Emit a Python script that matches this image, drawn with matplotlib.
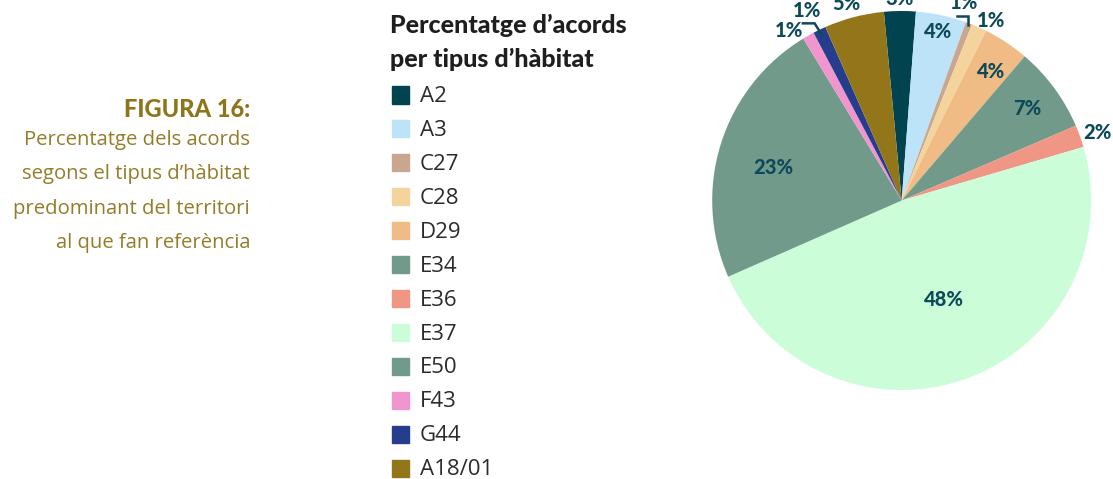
import numpy as np
import matplotlib
matplotlib.use("Agg")
import matplotlib.pyplot as plt
from matplotlib.patches import Rectangle

# habitat types and share of agreements (%)
habitats = ["A2", "A3", "C27", "C28", "D29", "E34", "E36", "E37", "E50", "F43", "G44", "A18/01"]
shares = [2.7, 4.3, 0.55, 1.3, 3.9, 7.3, 1.9, 48.0, 22.9, 1.0, 1.1, 5.1]
colors = ["#01444f", "#bde3f8", "#c9a68f", "#f4d49c", "#f0bb84", "#729a8a",
          "#f09684", "#ccfdd9", "#729a8a", "#f095cd", "#253d8c", "#94761a"]

legend_title = "Percentatge d\u2019acords\nper tipus d\u2019h\u00e0bitat"
fig_title = "FIGURA 16:"
fig_caption = ["Percentatge dels acords",
               "segons el tipus d\u2019h\u00e0bitat",
               "predominant del territori",
               "al que fan refer\u00e8ncia"]

# label placement: distance from centre (radius units) and angle tweak (deg, clockwise)
label_r = [1.066, 0.91, 1.093, 1.058, 0.83, 0.82, 1.095, 0.565, 0.70, 1.075, 1.12, 1.08]
label_shift = [0, 0, -3.3, 2.2, 1.3, 0, 0.8, -3, -3, -4, -0.7, -1.2]

W, H = 1113, 479
fig = plt.figure(figsize=(W / 100, H / 100), dpi=100)

def fx(x):
    return x / W

def fy(y):
    return 1 - y / H

# pie axes: centre (901.7, 200.5) px, radius 189.5 px
cx, cy, R = 901.7, 200.5, 189.5
ax = fig.add_axes([fx(cx - R), fy(cy + R), 2 * R / W, 2 * R / H])
wedges, _ = ax.pie(shares, colors=colors, startangle=95.4, counterclock=False,
                   radius=1, wedgeprops=dict(linewidth=0))
ax.set_xlim(-1, 1)
ax.set_ylim(-1, 1)
ax.set_aspect("auto")
ax.axis("off")

lab_col = "#0c4a59"
for i, w in enumerate(wedges):
    mid = np.deg2rad((w.theta1 + w.theta2) / 2 - label_shift[i])
    r = label_r[i]
    ax.text(r * np.cos(mid), r * np.sin(mid), "%.0f%%" % shares[i],
            ha="center", va="center", fontsize=14.5, fontweight="black",
            family="Lato", color=lab_col, clip_on=False)

# leader lines for the two crowded small slices
for i, bend in [(2, (0.0, 0.05)), (10, (-0.0385, 0.061))]:
    w = wedges[i]
    mid = np.deg2rad((w.theta1 + w.theta2) / 2)
    r0 = 0.99 if i == 2 else 0.97
    x0, y0 = r0 * np.cos(mid), r0 * np.sin(mid)
    x1, y1 = x0 + bend[0], y0 + bend[1]
    ax.plot([x0, x1, x1 - 0.062], [y0, y1, y1], color=lab_col, lw=1.8,
            solid_joinstyle="miter", clip_on=False)

# legend, drawn by hand to keep the print spacing
fig.text(fx(390), fy(25), legend_title.split("\n")[0], ha="left", va="center",
         fontsize=18, fontweight="black", family="Lato", color="#1e1e1e")
fig.text(fx(390), fy(59), legend_title.split("\n")[1], ha="left", va="center",
         fontsize=18, fontweight="black", family="Lato", color="#1e1e1e")
for i, (name, col) in enumerate(zip(habitats, colors)):
    yc = 95 + 33.93 * i
    fig.patches.append(Rectangle((fx(392), fy(yc + 8.5)), 17 / W, 17 / H,
                                 transform=fig.transFigure, color=col))
    fig.text(fx(420), fy(yc + 1.5), name, ha="left", va="center", fontsize=16,
             family="Open Sans", color="#2b2b2b")

# caption on the left
gold = "#8f7519"
fig.text(fx(250), fy(116.7), fig_title, ha="right", va="baseline", fontsize=17,
         fontweight="black", family="Lato", color=gold)
for i, line in enumerate(fig_caption):
    fig.text(fx(250), fy(145 + 34.5 * i), line, ha="right", va="baseline",
             fontsize=14.6, family="Open Sans", color="#957c28")

fig.savefig("out.png", dpi=100)
